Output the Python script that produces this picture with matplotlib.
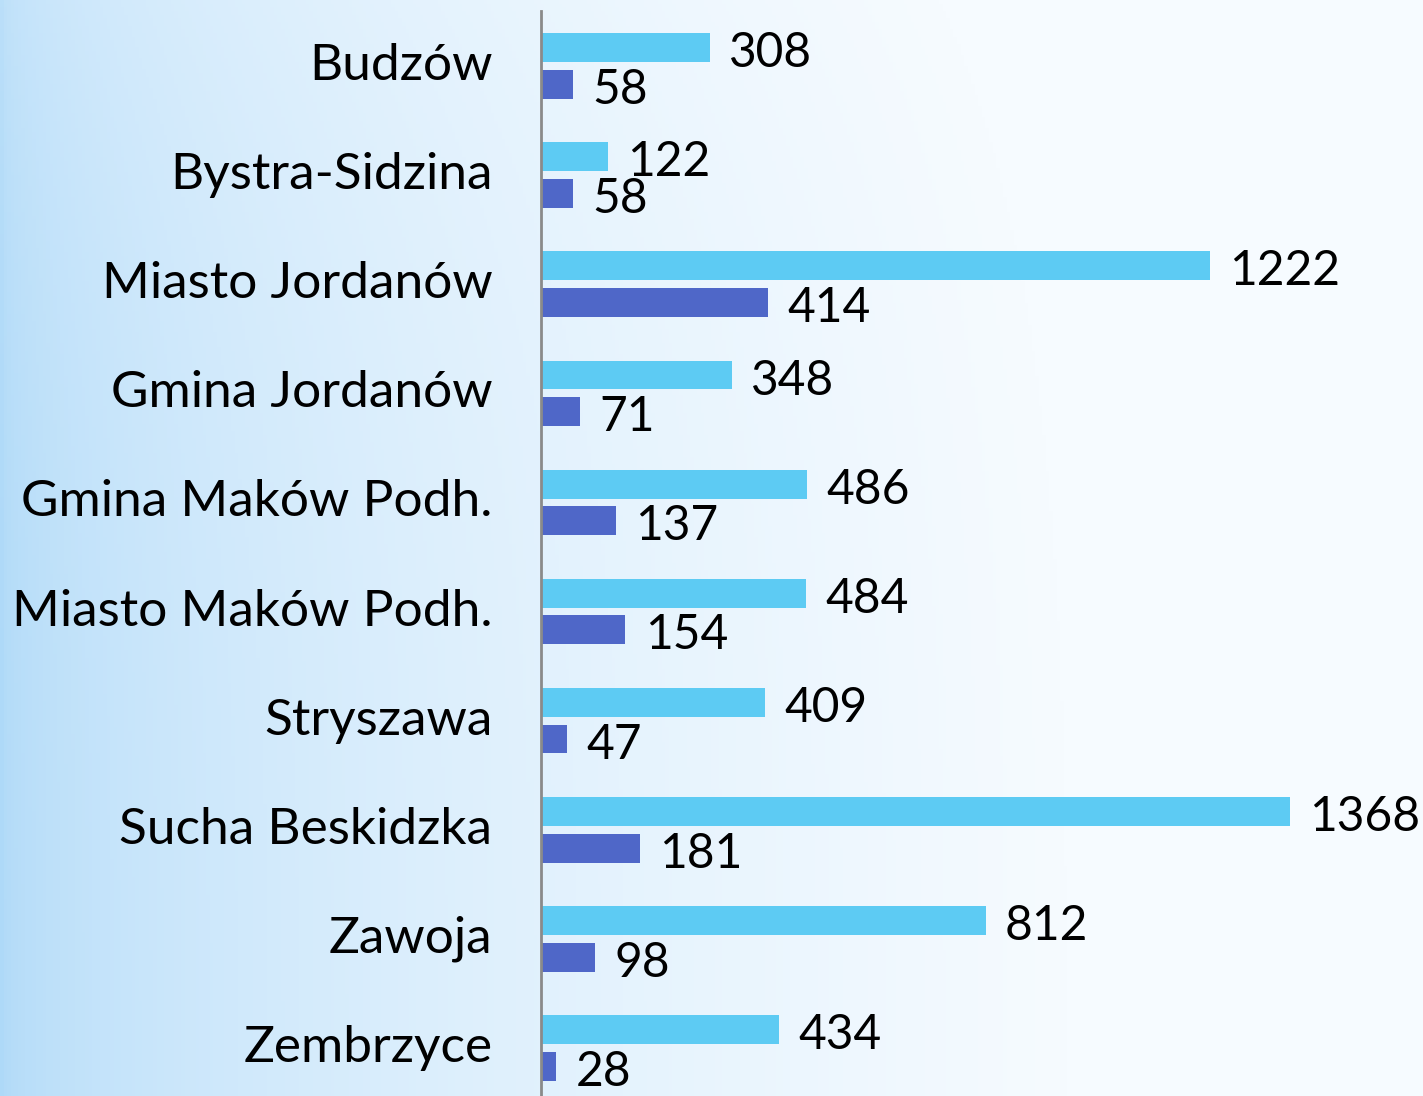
import numpy as np
import matplotlib
matplotlib.use("Agg")
import matplotlib.pyplot as plt

categories = ["Budzów", "Bystra-Sidzina", "Miasto Jordanów", "Gmina Jordanów",
              "Gmina Maków Podh.", "Miasto Maków Podh.", "Stryszawa",
              "Sucha Beskidzka", "Zawoja", "Zembrzyce"]
series_a = [308, 122, 1222, 348, 486, 484, 409, 1368, 812, 434]
series_b = [58, 58, 414, 71, 137, 154, 47, 181, 98, 28]

color_a = "#5DCBF3"
color_b = "#4F67C8"

plt.rcParams['font.family'] = ['Lato', 'DejaVu Sans']

W, H = 1423, 1096
fig = plt.figure(figsize=(W / 100, H / 100), dpi=100)

# background gradient
bg = fig.add_axes([0, 0, 1, 1])
xs = np.linspace(0, 1, 400)
ys = np.linspace(0, 1, 300)
X, Y = np.meshgrid(xs, ys)
left = np.array([174, 217, 248]) / 255.0
right = np.array([246, 251, 255]) / 255.0
t = np.clip((X / 0.75) ** 0.5, 0, 1)
t = np.clip(t + 0.18 * (1 - Y) ** 3 * (1 - X), 0, 1)
img = left[None, None, :] * (1 - t[..., None]) + right[None, None, :] * t[..., None]
bg.imshow(img, aspect='auto', extent=[0, 1, 0, 1], origin='upper')
bg.set_axis_off()

ax_left = 541 / W
ax_top_px = 11.5
ax_bot_px = 1102.5
ax = fig.add_axes([ax_left, (H - ax_bot_px) / H, 1 - ax_left, (ax_bot_px - ax_top_px) / H])
ax.patch.set_alpha(0)

n = len(categories)
y = np.arange(n)
h = 0.265
off = 0.168
ax.barh(y - off, series_a, height=h, color=color_a)
ax.barh(y + off, series_b, height=h, color=color_b)

ax.set_ylim(n - 0.5, -0.5)
ax.set_xlim(0, (W - 541) / 0.5475)

for i in range(n):
    ax.annotate(str(series_a[i]), (series_a[i], y[i] - off), xytext=(14, -4),
                textcoords='offset points', va='center', ha='left', fontsize=34.5, color='black')
    ax.annotate(str(series_b[i]), (series_b[i], y[i] + off), xytext=(14, -4),
                textcoords='offset points', va='center', ha='left', fontsize=34.5, color='black')

ax.set_yticks(y)
ax.set_yticklabels(categories, fontsize=37, va='center')
for lab in ax.get_yticklabels():
    lab.set_y(lab.get_position()[1])
ax.tick_params(axis='y', length=0, pad=35)
ax.set_xticks([])
for s in ['top', 'right', 'bottom']:
    ax.spines[s].set_visible(False)
ax.spines['left'].set_color('#8A8A8A')
ax.spines['left'].set_linewidth(2)

fig.savefig("out.png", dpi=100)
